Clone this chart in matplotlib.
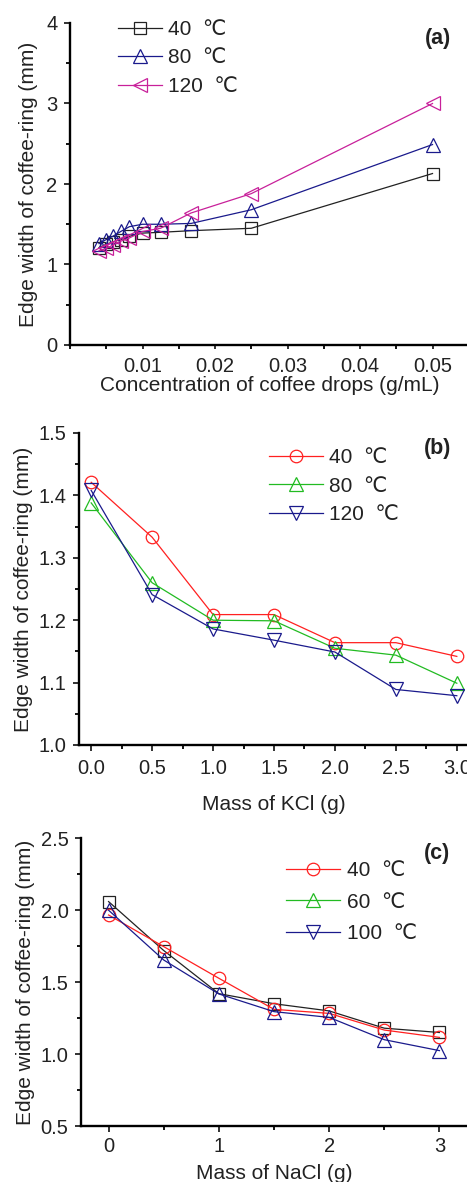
import numpy as np
import matplotlib
matplotlib.use('Agg')
import matplotlib.pyplot as plt
from matplotlib.lines import Line2D
from matplotlib.ticker import MultipleLocator, FormatStrFormatter

plt.rcParams['font.family'] = ['Liberation Sans', 'DejaVu Sans']

########### DATA ###############################################################

# (a) concentration of coffee drops
conc = [0.0040, 0.0050, 0.0059, 0.0070, 0.0082, 0.0100, 0.0125, 0.0167, 0.0250, 0.0500]
a_40 = [1.21, 1.25, 1.28, 1.31, 1.35, 1.39, 1.40, 1.42, 1.45, 2.13]
a_80 = [1.26, 1.31, 1.35, 1.41, 1.47, 1.50, 1.50, 1.51, 1.68, 2.49]
a_120 = [1.17, 1.20, 1.24, 1.29, 1.33, 1.41, 1.45, 1.64, 1.88, 3.00]
a_labels = ['40  \u2103', '80  \u2103', '120  \u2103']

# (b) mass of KCl
kcl = [0.0, 0.5, 1.0, 1.5, 2.0, 2.5, 3.0]
b_40 = [1.421, 1.333, 1.209, 1.209, 1.164, 1.164, 1.142]
b_80 = [1.388, 1.260, 1.200, 1.199, 1.155, 1.144, 1.099]
b_120 = [1.408, 1.241, 1.186, 1.168, 1.149, 1.089, 1.079]
b_labels = ['40  \u2103', '80  \u2103', '120  \u2103']

# (c) mass of NaCl
nacl = [0.0, 0.5, 1.0, 1.5, 2.0, 2.5, 3.0]
c_sq = [2.06, 1.72, 1.42, 1.35, 1.30, 1.18, 1.15]
c_40 = [1.967, 1.747, 1.527, 1.311, 1.283, 1.167, 1.116]
c_tri = [2.00, 1.654, 1.418, 1.295, 1.255, 1.100, 1.024]
c_labels = ['40  \u2103', '60  \u2103', '100  \u2103']

########### STYLE ##############################################################

BLACK = '#222222'
NAVY = '#1a1a8c'
PINK = '#c8209a'
RED = '#ff2020'
GREEN = '#22bb22'
TXT = '#222222'
YLAB = 'Edge width of coffee-ring (mm)'
LW = 0.9
MEW = 0.9
MSIZE = {'s': 8.5, 'o': 9, '^': 10, 'v': 10, '<': 10}


def style_axes(ax):
    for s in ['top', 'right']:
        ax.spines[s].set_visible(False)
    for s in ['left', 'bottom']:
        ax.spines[s].set_linewidth(1.7)
    ax.tick_params(which='major', direction='out', length=4, width=1.3,
                   labelsize=14.5, colors=TXT)
    ax.tick_params(which='minor', direction='out', length=3, width=1.3)
    ax.tick_params(axis='x', which='major', pad=6)
    ax.tick_params(axis='y', which='major', pad=5)


def series(ax, x, y, color, marker):
    ax.plot(x, y, color=color, lw=LW, marker=marker, ms=MSIZE[marker], mew=MEW,
            mfc='none', mec=color, clip_on=False)


def legend(ax, colors, markers, labels, anchor, hl, sp):
    handles = [Line2D([], [], color=c, lw=LW, marker=m, ms=MSIZE[m], mew=MEW,
                      mfc='none', label=l)
               for c, m, l in zip(colors, markers, labels)]
    leg = ax.legend(handles=handles, loc='upper left', bbox_to_anchor=anchor,
                    frameon=False, fontsize=15, handlelength=hl,
                    handletextpad=0.3, labelspacing=sp, borderaxespad=0)
    for t in leg.get_texts():
        t.set_color(TXT)


def panel_tag(ax, tag):
    ax.text(0.955, 0.985, tag, transform=ax.transAxes, fontsize=15.5,
            fontweight='bold', ha='right', va='top', color=TXT)


fig = plt.figure(figsize=(4.67, 11.82), dpi=100)

########### (a) ################################################################

ax = fig.add_axes([70 / 467, 1 - 345 / 1182, 398.75 / 467, 322 / 1182])
series(ax, conc, a_40, BLACK, 's')
series(ax, conc, a_80, NAVY, '^')
series(ax, conc, a_120, PINK, '<')
ax.set_xlim(0, 0.055)
ax.set_ylim(0, 4)
ax.set_xticks([0.01, 0.02, 0.03, 0.04, 0.05])
ax.set_xticklabels(['0.01', '0.02', '0.03', '0.04', '0.05'])
ax.xaxis.set_minor_locator(MultipleLocator(0.005))
ax.yaxis.set_major_locator(MultipleLocator(1))
ax.yaxis.set_minor_locator(MultipleLocator(0.5))
style_axes(ax)
ax.tick_params(axis='x', which='major', length=3)
ax.set_xlabel('Concentration of coffee drops (g/mL)', fontsize=15, color=TXT, labelpad=0)
ax.set_ylabel(YLAB, fontsize=15, color=TXT, labelpad=6)
panel_tag(ax, '(a)')
legend(ax, [BLACK, NAVY, PINK], ['s', '^', '<'], a_labels, (0.10, 1.035), 2.1, 0.45)

########### (b) ################################################################

ax = fig.add_axes([79 / 467, 1 - 745 / 1182, 390 / 467, 312 / 1182])
series(ax, kcl, b_40, RED, 'o')
series(ax, kcl, b_80, GREEN, '^')
series(ax, kcl, b_120, NAVY, 'v')
ax.set_xlim(-0.1, 3.1)
ax.set_ylim(1.0, 1.5)
ax.xaxis.set_major_locator(MultipleLocator(0.5))
ax.xaxis.set_minor_locator(MultipleLocator(0.25))
ax.yaxis.set_major_locator(MultipleLocator(0.1))
ax.yaxis.set_minor_locator(MultipleLocator(0.05))
ax.xaxis.set_major_formatter(FormatStrFormatter('%.1f'))
ax.yaxis.set_major_formatter(FormatStrFormatter('%.1f'))
style_axes(ax)
ax.set_xlabel('Mass of KCl (g)', fontsize=15, color=TXT, labelpad=12)
ax.set_ylabel(YLAB, fontsize=15, color=TXT, labelpad=4)
panel_tag(ax, '(b)')
legend(ax, [RED, GREEN, NAVY], ['o', '^', 'v'], b_labels, (0.465, 0.978), 2.6, 0.45)

########### (c) ################################################################

ax = fig.add_axes([81 / 467, 1 - 1126 / 1182, 386 / 467, 287.7 / 1182])
series(ax, nacl, c_sq, BLACK, 's')
series(ax, nacl, c_40, RED, 'o')
series(ax, nacl, c_tri, NAVY, '^')
ax.set_xlim(-0.25, 3.25)
ax.set_ylim(0.5, 2.5)
ax.xaxis.set_major_locator(MultipleLocator(1))
ax.xaxis.set_minor_locator(MultipleLocator(0.5))
ax.yaxis.set_major_locator(MultipleLocator(0.5))
ax.yaxis.set_minor_locator(MultipleLocator(0.25))
ax.yaxis.set_major_formatter(FormatStrFormatter('%.1f'))
style_axes(ax)
ax.tick_params(axis='x', which='major', pad=4)
ax.set_xlabel('Mass of NaCl (g)', fontsize=15, color=TXT, labelpad=6)
ax.set_ylabel(YLAB, fontsize=15, color=TXT, labelpad=4)
panel_tag(ax, '(c)')
legend(ax, [RED, GREEN, NAVY], ['o', '^', 'v'], c_labels, (0.51, 0.95), 2.6, 0.6)

fig.savefig('out.png', dpi=100)
